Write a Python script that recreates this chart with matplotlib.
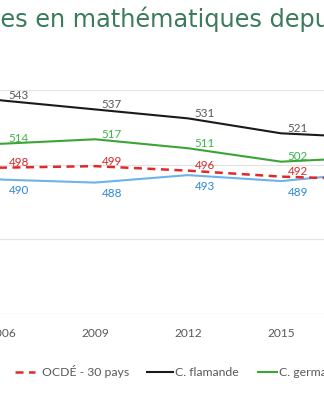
import matplotlib
matplotlib.use("Agg")
import matplotlib.pyplot as plt
from matplotlib.lines import Line2D

# data (PISA maths, mean scores)
years = [2003, 2006, 2009, 2012, 2015, 2018]
ocde = [500, 498, 499, 496, 492, 490]
flamande = [553, 543, 537, 531, 521, 518]
germanophone = [515, 514, 517, 511, 502, 505]
francaise = [498, 490, 488, 493, 489, 495]
tick_years = [2006, 2009, 2012, 2015, 2018]
title = "Performances moyennes en mathématiques depuis 2003"
legend_labels = ["OCDÉ - 30 pays", "C. flamande", "C. germanophone"]

W, H = 324, 400
fig = plt.figure(figsize=(W / 100, H / 100), dpi=100)
ax = fig.add_axes([0, 1 - 314 / H, 1, (314 - 90) / H])

# pixel -> year mapping so that the view is cropped like the reference
xmin, xmax = 2006 - 2 / 31, 2006 + (W - 2) / 31

series = [
    (flamande, "#1a1a1a", "-", "#595959", 1),
    (germanophone, "#3aa535", "-", "#3cb44b", 1),
    (francaise, "#6db3ea", "-", "#2e86d6", -1),
    (ocde, "#e02a2a", "--", "#d42a2a", 1),
]
for vals, col, ls, lcol, side in series:
    ln, = ax.plot(years, vals, color=col, lw=1.5 if ls == "-" else 1.8, ls=ls,
                  solid_capstyle="butt", zorder=3)
    if ls == "--":
        ln.set_dashes((3.2, 2.2))
    for yr, v in zip(years, vals):
        if not (xmin <= yr <= xmax):
            continue
        ax.annotate(str(v), (yr, v), xytext=(12, 3.6 if side > 0 else -8),
                    textcoords="offset points", ha="center", va="center",
                    fontsize=8.4, color=lcol, family="Lato", zorder=4)

ax.set_yticks([400, 450, 500, 550])
ax.grid(axis="y", color="#e3e3e3", lw=0.9)
ax.set_axisbelow(True)
for s in ax.spines.values():
    s.set_visible(False)
ax.set_xticks(tick_years)
ax.set_xticklabels([str(y) for y in tick_years], fontsize=8.6, color="#595959", family="Lato")
ax.tick_params(axis="x", length=0, pad=10)
ax.tick_params(axis="y", length=0, labelleft=False)
ax.set_xlim(xmin, xmax)
ax.set_ylim(400, 550)

# title, cropped on the left like the reference
renderer = fig.canvas.get_renderer()
probe = fig.text(0, 0, "es en mathématiques dep", fontsize=10, family="DejaVu Sans")
fs = 10 * 315 / probe.get_window_extent(renderer).width
probe.remove()
probe = fig.text(0, 0, "Performances moyenn", fontsize=fs, family="DejaVu Sans")
off = probe.get_window_extent(renderer).width
probe.remove()
fig.text(-off / W, 1 - 27 / H, title, fontsize=fs, family="DejaVu Sans",
         color="#3b7a5a", va="baseline", ha="left")

# legend drawn by hand
ly = 1 - 372 / H
leg = [(15, 35, 42, "#e02a2a", "--"), (147, 173, 175, "#1a1a1a", "-"), (258, 277, 279, "#3aa535", "-")]
for (x0, x1, xt, col, ls), lab in zip(leg, legend_labels):
    l = Line2D([x0 / W, x1 / W], [ly, ly], transform=fig.transFigure, color=col,
               lw=1.5 if ls == "-" else 1.8, ls=ls)
    if ls == "--":
        l.set_dashes((3.2, 2.2))
    fig.add_artist(l)
    fig.text(xt / W, ly, lab, fontsize=8.8, color="#595959", family="Lato", va="center")

fig.savefig("out.png", dpi=100)
